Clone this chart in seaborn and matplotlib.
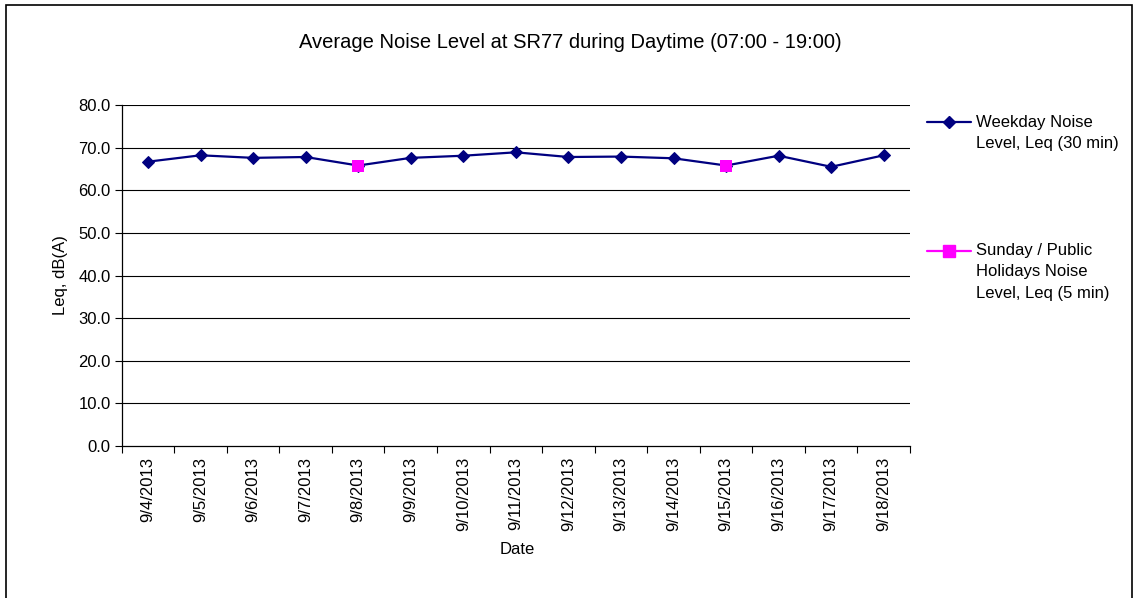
import matplotlib
matplotlib.use("Agg")
import matplotlib.pyplot as plt
import seaborn as sns
import numpy as np
import pandas as pd
from matplotlib.lines import Line2D
from matplotlib.patches import Rectangle
from matplotlib.legend_handler import HandlerLine2D
from matplotlib.ticker import FixedLocator, FormatStrFormatter

# ---- data ----
dates = ["9/4/2013", "9/5/2013", "9/6/2013", "9/7/2013", "9/8/2013",
         "9/9/2013", "9/10/2013", "9/11/2013", "9/12/2013", "9/13/2013",
         "9/14/2013", "9/15/2013", "9/16/2013", "9/17/2013", "9/18/2013"]
weekday_leq = [66.7, 68.2, 67.6, 67.8, 65.8, 67.6, 68.1, 68.9, 67.8, 67.9,
               67.5, 65.8, 68.1, 65.5, 68.2]
sunday_dates = ["9/8/2013", "9/15/2013"]
sunday_leq = [65.8, 65.8]
y_ticks = [0, 10, 20, 30, 40, 50, 60, 70, 80]

title = "Average Noise Level at SR77 during Daytime (07:00 - 19:00)"
weekday_label = "Weekday Noise\nLevel, Leq (30 min)"
sunday_label = "Sunday / Public\nHolidays Noise\nLevel, Leq (5 min)"

NAVY = "#000080"
MAGENTA = "#FF00FF"

sns.set_style("white")
plt.rcParams["font.family"] = ["Liberation Sans", "DejaVu Sans"]
plt.rcParams["text.color"] = "black"
plt.rcParams["axes.labelcolor"] = "black"
plt.rcParams["xtick.color"] = "black"
plt.rcParams["ytick.color"] = "black"
plt.rcParams["xtick.labelcolor"] = "black"
plt.rcParams["ytick.labelcolor"] = "black"

fig = plt.figure(figsize=(11.34, 5.98), dpi=100)
ax = fig.add_axes([121.7 / 1134, 1 - 446 / 598, (910 - 121.7) / 1134, (446 - 105) / 598])

pos = {d: i for i, d in enumerate(dates)}
wk = pd.DataFrame({"x": [pos[d] for d in dates], "y": weekday_leq})
su = pd.DataFrame({"x": [pos[d] for d in sunday_dates], "y": sunday_leq})

sns.lineplot(data=wk, x="x", y="y", ax=ax, color=NAVY, lw=1.6, marker="D",
             markersize=6.2, markeredgecolor=NAVY, sort=False, zorder=3)
sns.scatterplot(data=su, x="x", y="y", ax=ax, color=MAGENTA, marker="s",
                s=75, edgecolor=MAGENTA, linewidth=0, zorder=4)

ax.set_xlim(-0.5, len(dates) - 0.5)
ax.set_ylim(0, 80)

# y axis
ax.yaxis.set_major_locator(FixedLocator(y_ticks))
ax.yaxis.set_major_formatter(FormatStrFormatter("%.1f"))
ax.tick_params(axis="y", which="major", length=5, width=0.8, color="black",
               left=True, direction="out", labelsize=12, pad=3)
for v in y_ticks[1:]:
    ax.axhline(v, color="black", lw=0.8, zorder=1)

# x axis: labels at category centers, ticks at boundaries
ax.set_xticks(range(len(dates)))
ax.set_xticklabels(dates, rotation=90, fontsize=12)
ax.tick_params(axis="x", which="major", length=0, pad=8)
ax.set_xticks(np.arange(-0.5, len(dates), 1.0), minor=True)
ax.tick_params(axis="x", which="minor", length=5, width=0.8, color="black",
               bottom=True, direction="out")

for s in ["top", "right"]:
    ax.spines[s].set_visible(False)
for s in ["left", "bottom"]:
    ax.spines[s].set_color("black")
    ax.spines[s].set_linewidth(0.9)

ax.set_xlabel("")
ax.set_ylabel("")
fig.text(60 / 1134, 1 - 275 / 598, "Leq, dB(A)", rotation=90, ha="center",
         va="center", fontsize=12)
fig.text(517 / 1134, 1 - 550 / 598, "Date", ha="center", va="center", fontsize=12)
fig.text(570 / 1134, 1 - 43 / 598, title, ha="center", va="center", fontsize=14.5)


class TopHandler(HandlerLine2D):
    def __init__(self, shift, **kw):
        super().__init__(**kw)
        self.shift = shift

    def create_artists(self, legend, orig_handle, xdescent, ydescent, width,
                       height, fontsize, trans):
        return super().create_artists(legend, orig_handle, xdescent,
                                      ydescent - self.shift, width, height,
                                      fontsize, trans)


h1 = Line2D([], [], color=NAVY, lw=1.6, marker="D", markersize=6.2)
h2 = Line2D([], [], color=MAGENTA, lw=1.6, marker="s", markersize=8.5)
leg = fig.legend([h1, h2], [weekday_label, sunday_label],
                 loc="upper left", bbox_to_anchor=(927 / 1134, 1 - 114.5 / 598),
                 frameon=False, fontsize=12, handlelength=2.64,
                 handletextpad=0.3, borderpad=0, borderaxespad=0,
                 labelspacing=5.5, numpoints=1,
                 handler_map={h1: TopHandler(15.1), h2: TopHandler(30.2)})
for t in leg.get_texts():
    t.set_linespacing(1.55)

fig.add_artist(Rectangle((6 / 1134, -0.2), (1132 - 6) / 1134, 1.2 - 5 / 598,
                         transform=fig.transFigure, fill=False,
                         edgecolor="black", lw=1.2))

fig.savefig("out.png", dpi=100)
